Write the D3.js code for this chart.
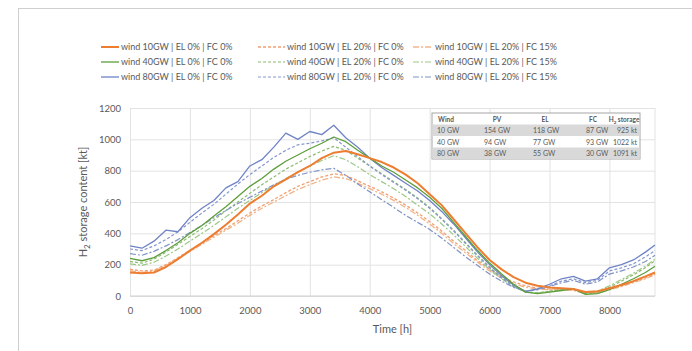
<!DOCTYPE html>
<html>
<head>
<meta charset="utf-8">
<script src="https://cdn.jsdelivr.net/npm/d3@7"></script>
<style>
  body { margin: 0; background: #fff; }
  svg text { font-family: Lato, "Open Sans", sans-serif; fill: #595959; }
</style>
</head>
<body>
<svg id="chart" width="692" height="351"></svg>
<script>
// time axis (h)
const hours = [0,200,400,600,800,1000,1200,1400,1600,1800,2000,2200,2400,2600,2800,3000,3200,3400,3600,3800,4000,4200,4400,4600,4800,5000,5200,5400,5600,5800,6000,6200,6400,6600,6800,7000,7200,7400,7600,7800,8000,8200,8400,8600,8760];

// H2 storage content [kt]
const wind10_el0_fc0 = [150,145,150,185,235,290,340,395,455,520,590,640,700,745,790,830,880,915,925,905,880,855,820,775,720,650,580,490,400,310,230,170,120,85,65,55,50,45,25,30,50,70,95,125,150];
const wind10_el20_fc0 = [170,160,165,200,245,290,335,385,430,480,530,575,615,660,700,730,760,780,770,735,700,665,625,580,530,475,415,350,290,225,170,125,90,65,50,45,45,40,20,25,45,65,90,115,140];
const wind10_el20_fc15 = [160,150,160,195,240,285,330,375,420,465,515,560,600,640,680,710,740,760,750,720,685,650,610,565,515,460,400,335,275,215,160,115,80,55,45,40,40,35,15,20,40,60,85,110,135];
const wind40_el0_fc0 = [240,225,245,290,340,400,450,510,570,635,700,750,810,860,900,940,975,1015,985,930,880,830,790,740,690,630,560,470,380,290,210,140,75,25,15,25,35,45,10,15,40,75,110,150,190];
const wind40_el20_fc0 = [220,210,235,280,330,380,430,485,545,600,655,710,760,810,850,890,925,955,930,880,830,780,730,680,625,565,495,420,340,260,185,120,65,25,20,30,40,45,15,20,55,95,135,180,225];
const wind40_el20_fc15 = [205,195,215,255,300,350,400,450,505,560,610,660,705,750,790,830,865,895,870,825,775,730,685,635,580,525,460,390,315,240,170,110,60,25,20,30,40,45,20,30,65,105,145,190,235];
const wind80_el0_fc0 = [320,305,350,420,410,500,560,610,690,730,830,870,950,1040,1000,1050,1030,1090,1010,950,880,820,770,720,670,610,540,460,370,280,200,130,70,30,45,75,110,125,95,110,180,200,230,280,325];
const wind80_el20_fc0 = [300,290,320,360,410,470,530,585,650,715,775,830,885,930,965,975,990,1010,950,890,830,775,725,675,620,560,490,415,335,255,180,115,60,30,40,65,95,110,85,100,160,180,205,250,290];
const wind80_el20_fc15 = [270,260,285,320,360,405,450,500,545,590,630,670,710,745,770,790,805,815,770,715,665,615,565,515,470,425,370,310,250,195,140,95,55,30,40,60,85,100,75,90,140,160,185,220,260];

const xTicks = [0,1000,2000,3000,4000,5000,6000,7000,8000];
const yTicks = [0,200,400,600,800,1000,1200];

// inset table
const tableHeader = ["Wind", "PV", "EL", "FC", "H\u2082 storage"];
const tableRows = [
  ["10 GW", "154 GW", "118 GW", "87 GW", "925 kt"],
  ["40 GW", "94 GW", "77 GW", "93 GW", "1022 kt"],
  ["80 GW", "38 GW", "55 GW", "30 GW", "1091 kt"]
];

const series = [
  { name: "wind 10GW | EL 0% | FC 0%", values: wind10_el0_fc0, color: "#ED7D31", dash: null, w: 2 },
  { name: "wind 40GW | EL 0% | FC 0%", values: wind40_el0_fc0, color: "#5E9E3A", dash: null, w: 1.3 },
  { name: "wind 80GW | EL 0% | FC 0%", values: wind80_el0_fc0, color: "#6F83C6", dash: null, w: 1.3 },
  { name: "wind 10GW | EL 20% | FC 0%", values: wind10_el20_fc0, color: "#F0A070", dash: "3,2", w: 1.3 },
  { name: "wind 40GW | EL 20% | FC 0%", values: wind40_el20_fc0, color: "#8CBB70", dash: "3,2", w: 1.2 },
  { name: "wind 80GW | EL 20% | FC 0%", values: wind80_el20_fc0, color: "#8797CE", dash: "3,2", w: 1.2 },
  { name: "wind 10GW | EL 20% | FC 15%", values: wind10_el20_fc15, color: "#F2B48A", dash: "6,2,2,2", w: 1.3 },
  { name: "wind 40GW | EL 20% | FC 15%", values: wind40_el20_fc15, color: "#9CC884", dash: "6,2,2,2", w: 1.2 },
  { name: "wind 80GW | EL 20% | FC 15%", values: wind80_el20_fc15, color: "#7F93C4", dash: "6,2,2,2", w: 1.2 }
];

const d3svg = d3.select("#chart");
const margin = { left: 130, right: 37, top: 108, bottom: 55 };
const width = 692 - margin.left - margin.right;
const height = 351 - margin.top - margin.bottom;

// outer frame
d3svg.append("rect")
  .attr("x", 18.5).attr("y", 8.5)
  .attr("width", 720).attr("height", 400)
  .attr("fill", "none").attr("stroke", "#cfcfcf");

const graph = d3svg.append("g").attr("transform", `translate(${margin.left},${margin.top})`);

const xScale = d3.scaleLinear().domain([0, 8760]).range([0, width]);
const yScale = d3.scaleLinear().domain([0, 1200]).range([height, 0]);

// grid
graph.append("g")
  .attr("transform", `translate(0,${height})`)
  .call(d3.axisBottom(xScale).tickValues(xTicks).tickSize(-height).tickFormat(""))
  .call(g => g.select(".domain").remove())
  .call(g => g.selectAll("line").attr("stroke", "#e3e3e3"));
graph.append("g")
  .call(d3.axisLeft(yScale).tickValues(yTicks).tickSize(-width).tickFormat(""))
  .call(g => g.select(".domain").remove())
  .call(g => g.selectAll("line").attr("stroke", "#e3e3e3"));
graph.append("line")
  .attr("x1", width).attr("x2", width).attr("y1", 0).attr("y2", height)
  .attr("stroke", "#e3e3e3");
graph.append("line")
  .attr("x1", 0).attr("x2", width).attr("y1", height).attr("y2", height)
  .attr("stroke", "#d0d0d0");

// tick labels
graph.append("g")
  .attr("transform", `translate(0,${height})`)
  .call(d3.axisBottom(xScale).tickValues(xTicks).tickSize(0).tickPadding(11).tickFormat(d3.format("d")))
  .call(g => g.select(".domain").remove())
  .call(g => g.selectAll("text").style("font-size", "9.5px").attr("fill", "#595959").style("font-family", "Lato, sans-serif"));
graph.append("g")
  .call(d3.axisLeft(yScale).tickValues(yTicks).tickSize(0).tickPadding(9).tickFormat(d3.format("d")))
  .call(g => g.select(".domain").remove())
  .call(g => g.selectAll("text").style("font-size", "9.5px").attr("fill", "#595959").style("font-family", "Lato, sans-serif"));

// axis titles
d3svg.append("text")
  .attr("x", margin.left + width / 2).attr("y", 333)
  .attr("text-anchor", "middle")
  .style("font-size", "11px")
  .text("Time [h]");
const yTitle = d3svg.append("text")
  .attr("transform", `translate(87,${margin.top + height / 2}) rotate(-90)`)
  .attr("text-anchor", "middle")
  .style("font-size", "11px");
yTitle.append("tspan").text("H");
yTitle.append("tspan").attr("dy", 3).style("font-size", "8px").text("2");
yTitle.append("tspan").attr("dy", -3).text(" storage content [kt]");

// lines
const line = d3.line()
  .x((d, i) => xScale(hours[i]))
  .y(d => yScale(d));

const drawOrder = [6, 3, 7, 4, 8, 5, 2, 1, 0];
drawOrder.forEach(k => {
  const s = series[k];
  graph.append("path")
    .attr("d", line(s.values))
    .attr("fill", "none")
    .attr("stroke", s.color)
    .attr("stroke-width", s.w)
    .attr("stroke-dasharray", s.dash)
    .attr("stroke-linejoin", "round");
});

// legend
const legendCols = [101, 258, 413];
const legendLen = [18, 27, 20];
const legendRows = [47, 62, 77];
series.forEach((s, i) => {
  const col = Math.floor(i / 3), row = i % 3;
  const lx = legendCols[col], ly = legendRows[row];
  d3svg.append("line")
    .attr("x1", lx).attr("x2", lx + legendLen[col])
    .attr("y1", ly).attr("y2", ly)
    .attr("stroke", s.color).attr("stroke-width", s.w)
    .attr("stroke-dasharray", s.dash);
  d3svg.append("text")
    .attr("x", lx + legendLen[col] + 2).attr("y", ly + 3)
    .style("font-size", "9px")
    .text(s.name);
});

// inset table
const tx = 432, ty = 113, tw = 208, rh = 11.5;
const colX = [437, 484, 533, 586, 637];
const table = d3svg.append("g");
table.append("rect").attr("x", tx).attr("y", ty).attr("width", tw).attr("height", rh * 4)
  .attr("fill", "#fff").attr("stroke", "#a6a6a6");
tableRows.forEach((r, i) => {
  if (i % 2 === 0) {
    table.append("rect").attr("x", tx + 0.5).attr("y", ty + rh * (i + 1))
      .attr("width", tw - 1).attr("height", rh).attr("fill", "#d9d9d9");
  }
});
const headerX = [446, 497, 545, 593, 624];
tableHeader.forEach((h, j) => {
  const t = table.append("text")
    .attr("x", headerX[j]).attr("y", ty + rh - 3)
    .attr("text-anchor", "middle")
    .style("font-size", "6.5px").style("font-weight", "bold").attr("fill", "#404040");
  if (j === 4) {
    t.append("tspan").text("H");
    t.append("tspan").attr("dy", 2).style("font-size", "4.5px").text("2");
    t.append("tspan").attr("dy", -2).text(" storage");
  } else {
    t.text(h);
  }
});
tableRows.forEach((r, i) => {
  r.forEach((c, j) => {
    table.append("text")
      .attr("x", colX[j]).attr("y", ty + rh * (i + 2) - 3)
      .attr("text-anchor", j === 4 ? "end" : "start")
      .style("font-size", "7px").attr("fill", "#404040")
      .text(c);
  });
});
</script>
</body>
</html>
